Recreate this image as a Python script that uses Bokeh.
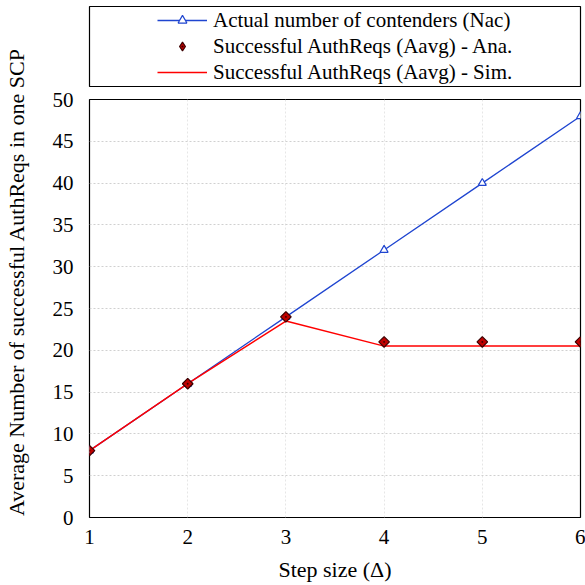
import math
from bokeh.plotting import figure
from bokeh.layouts import column, row
from bokeh.models import Range1d, FixedTicker, Legend, LegendItem, Title
from bokeh.embed import file_html
from bokeh.resources import INLINE

step = [1, 2, 3, 4, 5, 6]
nac = [8, 16, 24, 32, 40, 48]
aavg_ana = [8, 16, 24, 21, 21, 21]
aavg_sim = [8, 16, 23.5, 20.5, 20.5, 20.5]
x_ticks = [1, 2, 3, 4, 5, 6]
y_ticks = [0, 5, 10, 15, 20, 25, 30, 35, 40, 45, 50]
labels = ["Actual number of contenders (Nac)",
          "Successful AuthReqs (Aavg) - Ana.",
          "Successful AuthReqs (Aavg) - Sim."]
x_label = "Step size (Δ)"
y_label = "Average Number of successful AuthReqs in one SCP"

FONT = "Liberation Serif"
blue = "#1f45d0"
red = "#ff0000"
ana_fill = "#c00000"
ana_line = "#3a0000"

W0 = 40   # width of the column holding the rotated y-axis label
H_LG = 87  # height of the legend panel

# ---- y-axis label column ----
lab = figure(width=W0, height=585, output_backend="svg", toolbar_location=None,
             x_axis_location=None, y_axis_location=None,
             min_border_left=0, min_border_right=0, min_border_top=0, min_border_bottom=22)
lab.outline_line_color = None
lab.grid.visible = False
lab.title = None
yt = Title(text=y_label, align="center", text_font=FONT, text_font_size="22px",
           text_font_style="normal", text_color="black", standoff=2)
lab.add_layout(yt, "left")

# ---- main plot ----
p = figure(width=585 - W0, height=585 - H_LG, output_backend="svg", toolbar_location=None,
           x_range=Range1d(1, 6), y_range=Range1d(0, 50),
           min_border_left=89 - W0, min_border_right=5,
           min_border_top=99 - H_LG, min_border_bottom=68)
p.outline_line_color = "black"
p.outline_line_width = 1.2

for ax in (p.xaxis[0], p.yaxis[0]):
    ax.axis_line_color = None
    ax.major_tick_line_color = None
    ax.minor_tick_line_color = None
    ax.major_tick_out = 0
    ax.major_tick_in = 0
    ax.major_label_text_font = FONT
    ax.major_label_text_font_size = "21px"
    ax.major_label_text_color = "black"
    ax.axis_label_text_font = FONT
    ax.axis_label_text_font_size = "22px"
    ax.axis_label_text_font_style = "normal"
    ax.axis_label_text_color = "black"

p.xaxis.ticker = FixedTicker(ticks=x_ticks)
p.yaxis.ticker = FixedTicker(ticks=y_ticks)
p.xaxis.axis_label = x_label
p.xaxis.major_label_standoff = 12
p.yaxis.major_label_standoff = 16
p.xaxis.axis_label_standoff = 10

p.xgrid.grid_line_color = "#e6e6e6"
p.xgrid.grid_line_dash = "2 2"
p.ygrid.grid_line_color = "#d0d0d0"
p.ygrid.grid_line_dash = "2 2"

p.line(step, nac, line_color=blue, line_width=1.3)
p.scatter(step, nac, marker="triangle", size=8, fill_color="white",
          line_color=blue, line_width=1.2)
p.line(step, aavg_sim, line_color=red, line_width=1.5)
p.scatter(step, aavg_ana, marker="square_dot", size=7.5, angle=math.pi / 4,
          fill_color=ana_fill, line_color=ana_line, line_width=1.2)

# ---- legend panel (box above the plot) ----
lg = figure(width=585 - W0, height=H_LG, output_backend="svg", toolbar_location=None,
            x_range=Range1d(-20, -10), y_range=Range1d(-20, -10),
            x_axis_location=None, y_axis_location=None,
            min_border_left=86 - W0, min_border_right=5, min_border_top=6, min_border_bottom=1)
lg.grid.visible = False
lg.outline_line_color = "black"
lg.outline_line_width = 1.2
r1 = lg.line(step, nac, line_color=blue, line_width=1.3)
r1m = lg.scatter(step, nac, marker="triangle", fill_color="white",
                 line_color=blue, line_width=1.2)
r2 = lg.scatter(step, aavg_ana, marker="diamond_dot", fill_color=ana_fill,
                line_color=ana_line, line_width=1.2)
r3 = lg.line(step, aavg_sim, line_color=red, line_width=1.5)

legend = Legend(items=[
    LegendItem(label=labels[0], renderers=[r1, r1m]),
    LegendItem(label=labels[1], renderers=[r2]),
    LegendItem(label=labels[2], renderers=[r3]),
], location=(68, 1))
legend.border_line_alpha = 0
legend.background_fill_alpha = 0
legend.padding = 0
legend.margin = 0
legend.spacing = 0
legend.glyph_width = 50
legend.glyph_height = 22
legend.label_height = 26
legend.label_standoff = 6
legend.label_text_font = FONT
legend.label_text_font_size = "21px"
legend.label_text_color = "black"
lg.add_layout(legend, "center")

layout = row(lab, column(lg, p, spacing=0), spacing=0)
open("out.html", "w").write(file_html(layout, INLINE))
